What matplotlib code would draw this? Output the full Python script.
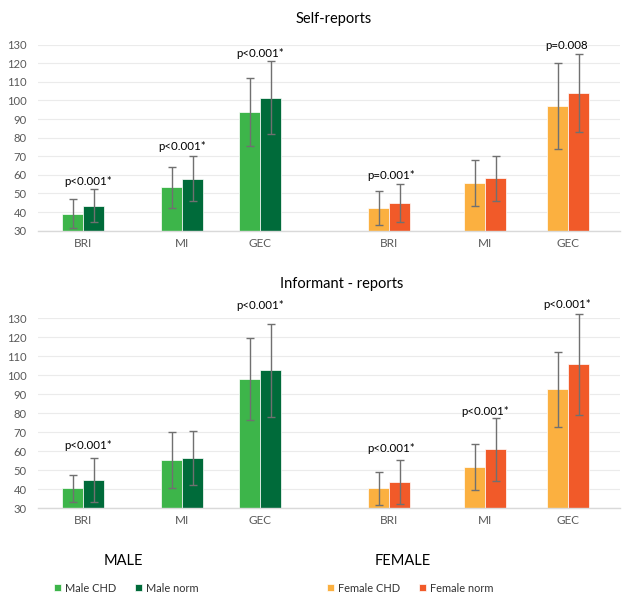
import matplotlib
matplotlib.use("Agg")
import matplotlib.pyplot as plt
import numpy as np

plt.rcParams['font.family'] = ['Lato', 'DejaVu Sans']

# ---------------- data ----------------
measures = ["BRI", "MI", "GEC"]
series_names = ["Male CHD", "Male norm", "Female CHD", "Female norm"]

# Self-reports (mean, sd)
self_male_chd = [39.0, 53.4, 93.8]
self_male_chd_sd = [7.8, 11.0, 18.4]
self_male_norm = [43.5, 58.0, 101.5]
self_male_norm_sd = [8.9, 12.2, 19.7]
self_female_chd = [42.2, 55.5, 97.0]
self_female_chd_sd = [9.2, 12.3, 23.1]
self_female_norm = [45.1, 58.2, 103.8]
self_female_norm_sd = [10.2, 12.2, 21.0]

# Informant-reports (mean, sd)
inf_male_chd = [40.5, 55.4, 98.0]
inf_male_chd_sd = [7.2, 14.7, 21.7]
inf_male_norm = [44.9, 56.3, 102.6]
inf_male_norm_sd = [11.7, 14.2, 24.4]
inf_female_chd = [40.5, 51.7, 92.6]
inf_female_chd_sd = [8.8, 12.3, 19.6]
inf_female_norm = [44.0, 61.0, 105.8]
inf_female_norm_sd = [11.5, 16.6, 26.7]

# p-value labels (None = no label)
self_male_p = ["p<0.001*", "p<0.001*", "p<0.001*"]
self_female_p = ["p=0.001*", None, "p=0.008"]
inf_male_p = ["p<0.001*", None, "p<0.001*"]
inf_female_p = ["p<0.001*", "p<0.001*", "p<0.001*"]

yticks = [30, 40, 50, 60, 70, 80, 90, 100, 110, 120, 130]

# ---------------- style / layout ----------------
C_MCHD = "#3DB54A"
C_MNORM = "#006B3A"
C_FCHD = "#FBB040"
C_FNORM = "#F15A29"
ERR_C = "#707070"
TXT_C = "#595959"

W, H = 624, 597
fig = plt.figure(figsize=(W / 100, H / 100), dpi=100)

male_x = np.array([83, 182, 260])
female_x = np.array([389, 485, 568])
bw = 21

def ax_rect(left, right, top, bottom):
    return [left / W, 1 - bottom / H, (right - left) / W, (bottom - top) / H]

# label offsets above highest error bar (data units)
self_male_off = [4.0, 4.9, 4.0]
self_female_off = [4.6, 0, 4.7]
inf_male_off = [6.7, 0, 9.6]
inf_female_off = [6.0, 3.5, 4.9]
male_lab_dx = [5, 0, 0]
female_lab_dx = [2, 0, -1]


def panel(rect, data, title, title_xy):
    ax = fig.add_axes(rect)
    (mc, mcs, mn, mns, fc, fcs, fn, fns, mp, fp, moff, foff) = data
    handles = []
    for xs, (a, asd, b, bsd), cols, labs, offs, dxs in [
        (male_x, (mc, mcs, mn, mns), (C_MCHD, C_MNORM), mp, moff, male_lab_dx),
        (female_x, (fc, fcs, fn, fns), (C_FCHD, C_FNORM), fp, foff, female_lab_dx),
    ]:
        h1 = ax.bar(xs - bw / 2, a, bw, bottom=0, color=cols[0], edgecolor="#ffffff",
                    linewidth=0.5, zorder=2)
        h2 = ax.bar(xs + bw / 2, b, bw, bottom=0, color=cols[1], edgecolor="#ffffff",
                    linewidth=0.5, zorder=2)
        handles += [h1, h2]
        for xx, yy, ee in [(xs - bw / 2, a, asd), (xs + bw / 2, b, bsd)]:
            eb = ax.errorbar(xx, yy, yerr=ee, fmt="none", ecolor=ERR_C, elinewidth=1.0,
                             capsize=3, capthick=1.0, zorder=3)
            for art in eb.lines[1] + eb.lines[2]:
                art.set_clip_on(False)
        for i, lab in enumerate(labs):
            if lab is None:
                continue
            top = max(a[i] + asd[i], b[i] + bsd[i])
            ax.text(xs[i] + dxs[i], top + offs[i], lab, ha="center", va="center",
                    fontsize=8.3, color="#000000", clip_on=False, zorder=4)
    ax.set_ylim(30, 130)
    ax.set_xlim(38, 620)
    ax.set_yticks(yticks)
    ax.set_yticklabels([str(t) for t in yticks], fontsize=8.1, color=TXT_C)
    allx = np.concatenate([male_x, female_x])
    ax.set_xticks(allx)
    ax.set_xticklabels(measures + measures, fontsize=8.5, color=TXT_C)
    ax.tick_params(axis="both", length=0)
    ax.tick_params(axis="x", pad=5)
    ax.tick_params(axis="y", pad=8)
    for s in ["top", "right", "left"]:
        ax.spines[s].set_visible(False)
    ax.spines["bottom"].set_color("#D9D9D9")
    ax.spines["bottom"].set_linewidth(1.0)
    ax.grid(axis="y", color="#EBEBEB", linewidth=0.8, zorder=0)
    ax.set_axisbelow(True)
    fig.text(title_xy[0] / W, 1 - title_xy[1] / H, title, ha="center", va="center",
             fontsize=10.5, color="#000000")
    return handles


panel(ax_rect(38, 620, 44.6, 230.7),
      (self_male_chd, self_male_chd_sd, self_male_norm, self_male_norm_sd,
       self_female_chd, self_female_chd_sd, self_female_norm, self_female_norm_sd,
       self_male_p, self_female_p, self_male_off, self_female_off),
      "Self-reports", (334, 19))

handles = panel(ax_rect(38, 620, 318.3, 508.3),
                (inf_male_chd, inf_male_chd_sd, inf_male_norm, inf_male_norm_sd,
                 inf_female_chd, inf_female_chd_sd, inf_female_norm, inf_female_norm_sd,
                 inf_male_p, inf_female_p, inf_male_off, inf_female_off),
                "Informant - reports", (342, 284))

fig.text(123 / W, 1 - 561 / H, "MALE", ha="center", va="center", fontsize=10.5, color="#000000")
fig.text(403 / W, 1 - 561 / H, "FEMALE", ha="center", va="center", fontsize=10.5, color="#000000")

leg_kw = dict(ncol=2, frameon=False, fontsize=7.9, handlelength=0.65, handleheight=0.65,
              handletextpad=0.35, columnspacing=1.7, borderaxespad=0, borderpad=0,
              loc="center left", labelcolor="#333333")
fig.legend([handles[0], handles[1]], series_names[:2],
           bbox_to_anchor=(54 / W, 1 - 588 / H), **leg_kw)
fig.legend([handles[2], handles[3]], series_names[2:],
           bbox_to_anchor=(327 / W, 1 - 588 / H), **leg_kw)

fig.savefig("out.png", dpi=100, facecolor="white")
